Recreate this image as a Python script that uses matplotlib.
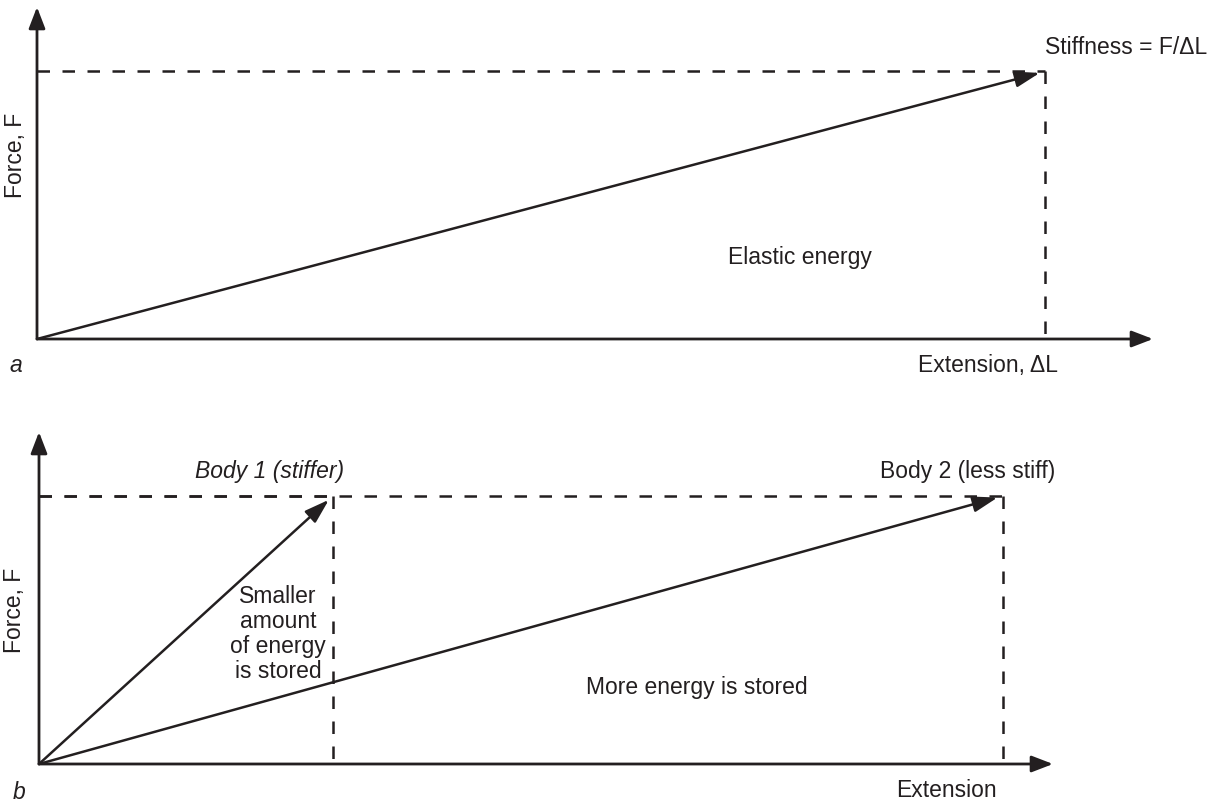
import matplotlib
matplotlib.use('Agg')
import matplotlib.pyplot as plt

INK = '#231f20'
W, H = 1216, 806

# ---- data (conceptual diagram, arbitrary units) ----
force_level = 1.0
extension_a = 1.0
extension_body1 = 0.305
extension_body2 = 1.0

plt.rcParams['font.family'] = ['Liberation Sans', 'DejaVu Sans']
FS = 16.5

fig = plt.figure(figsize=(W / 100, H / 100), dpi=100)


def panel(x0, y0, x1, y1, xmax, ymax):
    ax = fig.add_axes([x0 / W, (H - y0) / H, (x1 - x0) / W, (y0 - y1) / H])
    ax.set_xlim(0, xmax)
    ax.set_ylim(0, ymax)
    ax.axis('off')
    # axes arrows
    ap = dict(arrowstyle='-|>,head_length=1.3,head_width=0.5', mutation_scale=10,
              lw=2.0, color=INK, shrinkA=0, shrinkB=0)
    ax.annotate('', xy=(1, 0), xytext=(0, 0), xycoords='axes fraction',
                textcoords='axes fraction', arrowprops=ap, annotation_clip=False)
    ax.annotate('', xy=(0, 1), xytext=(0, 0), xycoords='axes fraction',
                textcoords='axes fraction', arrowprops=ap, annotation_clip=False)
    return ax


DASH = (0, (5.0, 5.0))


def dashed_box(ax, ext, f):
    ax.plot([0, ext], [f, f], ls=DASH, lw=1.8, color=INK, clip_on=False)
    ax.plot([ext, ext], [f, 0], ls=DASH, lw=1.8, color=INK, clip_on=False)


def load_arrow(ax, ext, f):
    ax.annotate('', xy=(ext, f), xytext=(0, 0),
                arrowprops=dict(arrowstyle='-|>,head_length=1.5,head_width=0.48',
                                mutation_scale=10, lw=1.8, color=INK,
                                shrinkA=0, shrinkB=4),
                annotation_clip=False)


# ---------------- panel a ----------------
axa = panel(37, 339, 1153, 7, 1.107, 1.241)
dashed_box(axa, extension_a, force_level)
load_arrow(axa, extension_a, force_level)
axa.text(extension_a, 1.088, 'Stiffness = F/\u0394L', ha='left', va='center',
         fontsize=FS, color=INK)
axa.text(0.757, 0.303, 'Elastic energy', ha='center', va='center',
         fontsize=FS, color=INK)
axa.text(1.013, -0.10, 'Extension, \u0394L', ha='right', va='center',
         fontsize=FS, color=INK)
axa.text(-0.0218, 0.688, 'Force, F', ha='center', va='center', rotation=90,
         fontsize=FS, color=INK)
axa.text(-0.027, -0.10, 'a', ha='left', va='center', style='italic',
         fontsize=FS, color=INK)

# ---------------- panel b ----------------
axb = panel(39, 764, 1053, 432, 1.052, 1.239)
dashed_box(axb, extension_body1, force_level)
dashed_box(axb, extension_body2, force_level)
load_arrow(axb, extension_body1, force_level)
load_arrow(axb, extension_body2, force_level)
axb.text(0.239, 1.09, 'Body 1 (stiffer)', ha='center', va='center',
         style='italic', fontsize=FS, color=INK)
axb.text(1.054, 1.09, 'Body 2 (less stiff)', ha='right', va='center',
         fontsize=FS, color=INK)
axb.text(0.248, 0.485, 'Smaller\namount\nof energy\nis stored', ha='center',
         va='center', multialignment='center', linespacing=1.12,
         fontsize=FS, color=INK)
axb.text(0.568, 0.284, 'More energy is stored', ha='left', va='center',
         fontsize=FS, color=INK)
axb.text(0.994, -0.10, 'Extension', ha='right', va='center',
         fontsize=FS, color=INK)
axb.text(-0.025, 0.575, 'Force, F', ha='center', va='center', rotation=90,
         fontsize=FS, color=INK)
axb.text(-0.027, -0.105, 'b', ha='left', va='center', style='italic',
         fontsize=FS, color=INK)

fig.savefig('out.png', dpi=100, facecolor='white')
